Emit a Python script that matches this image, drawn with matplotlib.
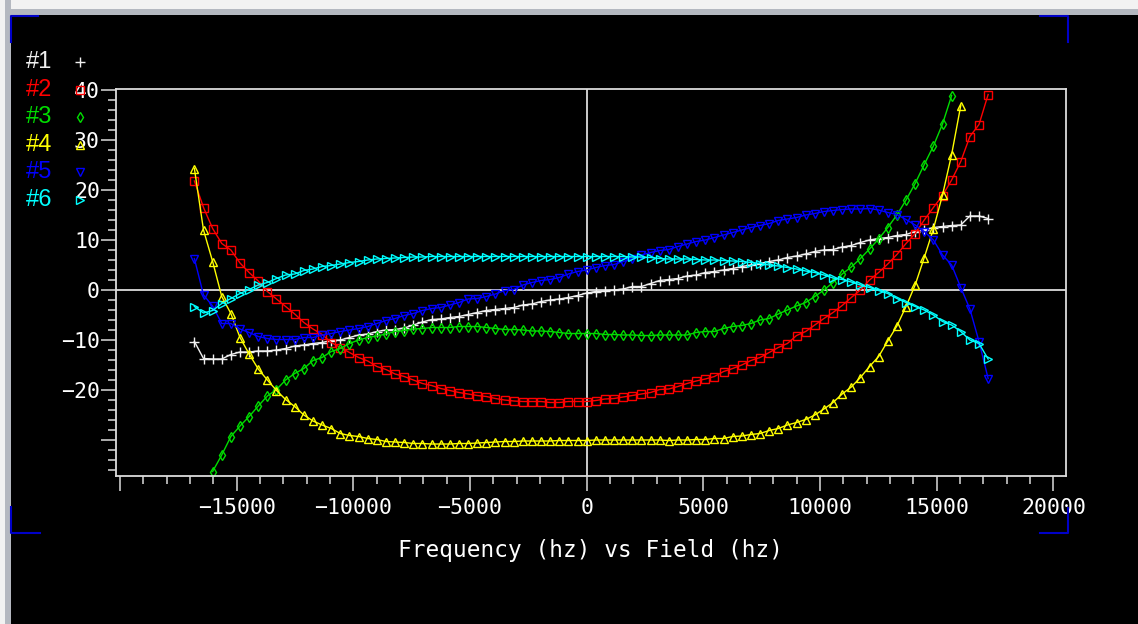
import matplotlib.pyplot as plt
import numpy as np
from matplotlib.lines import Line2D
from matplotlib.patches import Rectangle
from matplotlib.ticker import MultipleLocator

# field sweep: one sample every 391 Hz, steps -43 .. 44
field = np.arange(-43, 45) * 391

# series 1, 2, 5, 6 cover the whole sweep, 3 starts at step -41 and ends at 40,
# 4 ends at step 41
s1 = [-10.3, -13.7, -13.8, -13.8, -12.9, -12.4, -12.4, -12.2, -12.2, -12.0,
      -11.7, -11.2, -11.0, -10.7, -10.5, -10.1, -10.0, -9.5, -9.0, -8.8,
      -8.3, -8.0, -7.9, -7.6, -7.0, -6.4, -5.9, -5.8, -5.5, -5.3,
      -4.9, -4.5, -4.1, -3.9, -3.7, -3.5, -3.0, -2.8, -2.3, -2.0,
      -1.8, -1.5, -1.1, -0.6, -0.3, -0.2, 0.0, 0.2, 0.7, 0.7,
      1.3, 1.9, 2.1, 2.3, 2.8, 3.0, 3.5, 3.7, 4.0, 4.3,
      4.7, 5.0, 5.3, 5.7, 6.0, 6.5, 6.8, 7.2, 7.7, 8.0,
      8.1, 8.6, 8.9, 9.5, 10.0, 10.3, 10.5, 10.9, 11.1, 11.7,
      12.0, 12.5, 12.7, 12.9, 13.0, 14.8, 14.8, 14.3]
s2 = [21.8, 16.5, 12.3, 9.3, 8.0, 5.4, 3.5, 1.8, -0.3, -1.8,
      -3.3, -4.8, -6.5, -7.8, -8.9, -10.5, -11.5, -12.5, -13.5, -14.2,
      -15.3, -15.9, -16.8, -17.3, -18.0, -18.7, -19.1, -19.7, -20.1, -20.5,
      -20.8, -21.1, -21.3, -21.7, -22.0, -22.2, -22.3, -22.3, -22.3, -22.5,
      -22.5, -22.3, -22.3, -22.3, -22.1, -21.8, -21.7, -21.4, -21.1, -20.8,
      -20.5, -19.9, -19.8, -19.3, -18.7, -18.2, -17.8, -17.3, -16.3, -15.7,
      -15.0, -14.1, -13.5, -12.5, -11.5, -10.7, -9.1, -8.3, -7.0, -5.7,
      -4.5, -3.1, -1.5, 0.0, 2.0, 3.5, 5.2, 7.1, 9.3, 11.3,
      14.0, 16.5, 18.9, 22.0, 25.7, 30.7, 33.1, 39.1]
s3 = [-36.3, -33.0, -29.3, -27.2, -25.3, -23.2, -21.2, -19.9,
      -18.0, -16.7, -15.7, -14.1, -13.5, -12.3, -11.7, -10.7, -10.0, -9.5,
      -9.2, -8.8, -8.3, -8.1, -7.8, -7.7, -7.5, -7.5, -7.5, -7.3,
      -7.3, -7.3, -7.5, -7.7, -7.9, -7.9, -8.0, -8.2, -8.2, -8.3,
      -8.5, -8.7, -8.7, -8.7, -8.7, -8.9, -8.9, -9.0, -9.0, -9.1,
      -9.1, -9.0, -9.0, -9.0, -9.0, -8.5, -8.3, -8.3, -7.7, -7.3,
      -7.1, -6.7, -6.0, -5.7, -4.8, -4.0, -3.2, -2.5, -1.3, 0.0,
      1.5, 3.2, 4.6, 6.3, 8.2, 10.2, 12.5, 15.0, 18.0, 21.3,
      25.1, 28.8, 33.2, 38.9]
s4 = [24.3, 12.0, 5.7, -1.3, -4.7, -9.5, -12.8, -15.8, -18.0, -20.1,
      -21.9, -23.3, -25.0, -26.2, -27.0, -27.7, -28.7, -29.1, -29.3, -29.7,
      -29.9, -30.3, -30.4, -30.5, -30.7, -30.7, -30.8, -30.8, -30.8, -30.7,
      -30.7, -30.6, -30.5, -30.4, -30.3, -30.3, -30.2, -30.2, -30.2, -30.2,
      -30.1, -30.1, -30.1, -30.1, -30.0, -30.0, -30.0, -30.0, -30.0, -30.0,
      -30.0, -30.0, -30.1, -30.0, -30.0, -29.9, -29.9, -29.7, -29.7, -29.3,
      -29.2, -28.9, -28.7, -28.1, -27.7, -27.0, -26.5, -25.9, -25.0, -23.8,
      -22.5, -20.8, -19.4, -17.5, -15.3, -13.3, -10.2, -7.2, -3.3, 1.0,
      6.5, 12.2, 19.0, 27.1, 36.9]
s5 = [6.3, -1.0, -3.2, -6.7, -6.7, -7.8, -8.5, -9.3, -9.7, -9.9,
      -9.9, -9.9, -9.5, -9.5, -9.0, -8.7, -8.3, -8.0, -7.7, -7.3,
      -6.7, -6.1, -5.7, -5.1, -4.7, -4.1, -3.7, -3.5, -3.0, -2.5,
      -1.8, -1.7, -1.3, -0.8, -0.1, 0.1, 1.0, 1.5, 1.9, 2.1,
      2.5, 3.2, 3.7, 4.0, 4.5, 4.9, 5.1, 5.7, 6.3, 7.0,
      7.5, 7.9, 8.1, 8.7, 9.2, 9.7, 10.0, 10.5, 11.0, 11.5,
      12.0, 12.5, 12.9, 13.3, 13.9, 14.2, 14.5, 15.0, 15.3, 15.7,
      15.9, 16.1, 16.2, 16.2, 16.3, 16.0, 15.5, 15.1, 14.1, 13.0,
      11.7, 10.0, 7.0, 5.0, 0.5, -3.8, -10.3, -17.7]
s6 = [-3.3, -4.6, -4.1, -2.7, -1.7, -0.7, 0.1, 1.0, 1.5, 2.3,
      3.0, 3.2, 3.9, 4.2, 4.7, 4.9, 5.2, 5.5, 5.7, 6.0,
      6.2, 6.3, 6.4, 6.5, 6.6, 6.6, 6.7, 6.7, 6.7, 6.7,
      6.7, 6.7, 6.7, 6.7, 6.7, 6.7, 6.7, 6.7, 6.7, 6.7,
      6.7, 6.7, 6.7, 6.7, 6.7, 6.7, 6.7, 6.7, 6.6, 6.6,
      6.5, 6.3, 6.2, 6.2, 6.2, 6.1, 6.0, 6.0, 5.9, 5.8,
      5.7, 5.5, 5.3, 5.0, 4.8, 4.5, 4.2, 3.8, 3.5, 3.0,
      2.4, 2.1, 1.6, 1.0, 0.5, -0.1, -0.7, -1.7, -2.5, -3.3,
      -4.0, -5.0, -6.3, -7.0, -8.3, -10.0, -10.7, -13.8]

names = ["#1", "#2", "#3", "#4", "#5", "#6"]
colors = ["#f0f0f0", "#ff0000", "#00dd00", "#ffff00", "#0000ff", "#00ffff"]
markers = ["+", "s", "d", "^", "v", ">"]

xtick_vals = [-20000, -15000, -10000, -5000, 0, 5000, 10000, 15000, 20000]
xtick_labels = ["", "\u221215000", "\u221210000", "\u22125000", "0",
                "5000", "10000", "15000", "20000"]
ytick_vals = [-30, -20, -10, 0, 10, 20, 30, 40]
ytick_labels = ["", "\u221220", "\u221210", "0", "10", "20", "30", "40"]

W, H = 1138, 624
fg = "#dcdcdc"


def fx(px):
    return px / W


def fy(py):
    return 1 - py / H


fig = plt.figure(figsize=(W / 100, H / 100), dpi=100, facecolor="black")
ax = fig.add_axes([fx(116), fy(476), 950 / W, 387 / H], facecolor="black")

ax.axhline(0, color=fg, lw=1.3, zorder=1)
ax.axvline(0, color=fg, lw=1.3, zorder=1)

xs = [field, field, field[2:84], field[:85], field, field]
ys = [s1, s2, s3, s4, s5, s6]
sizes = [7, 5.5, 5.5, 5.5, 5.5, 5.5]
for x, y, c, m, ms in zip(xs, ys, colors, markers, sizes):
    ax.plot(x, y, color=c, lw=1.0, marker=m, ms=ms, mfc="none", mec=c,
            mew=1.0, zorder=2)

ax.set_xlim(-20172, 20541)
ax.set_ylim(-37.2, 40.2)
ax.set_xticks(xtick_vals, xtick_labels)
ax.set_yticks(ytick_vals, ytick_labels)
ax.xaxis.set_minor_locator(MultipleLocator(1000))
ax.yaxis.set_minor_locator(MultipleLocator(2))
ax.tick_params(which="major", length=11, width=1.1, color=fg,
               labelcolor="white", labelsize=15.5)
ax.tick_params(which="minor", length=5.5, width=1.1, color=fg)
ax.tick_params(axis="x", which="major", pad=5)
ax.tick_params(axis="y", which="major", pad=0.5)
for lab in ax.get_xticklabels() + ax.get_yticklabels():
    lab.set_family("DejaVu Sans Mono")
for sp in ax.spines.values():
    sp.set_color(fg)
    sp.set_linewidth(1.3)

ax.set_xlabel("Frequency (hz) vs Field (hz)", family="DejaVu Sans Mono",
              fontsize=16.4, color="white", va="center")
ax.xaxis.set_label_coords((590 - 116) / 950, (476 - 550) / 387)

# legend: coloured name, then the marker
for i, (n, c, m) in enumerate(zip(names, colors, markers)):
    yy = fy(62 + 27.6 * i)
    fig.text(fx(26), yy, n, color=c, family="Liberation Sans", fontsize=17,
             va="center", ha="left")
    fig.add_artist(Line2D([fx(80)], [yy], marker=m,
                          ms=6.5 if m == "+" else 5.5,
                          mfc="none", mec=c, mew=1.0, ls="none",
                          transform=fig.transFigure))

# window frame
fig.add_artist(Rectangle((0, fy(15)), 1, 15 / H, transform=fig.transFigure,
                         color="#b4b8c0", lw=0))
fig.add_artist(Rectangle((0, fy(9)), 1, 9 / H, transform=fig.transFigure,
                         color="#f2f2f2", lw=0))
fig.add_artist(Rectangle((0, 0), 11 / W, 1, transform=fig.transFigure,
                         color="#b4b8c0", lw=0))
fig.add_artist(Rectangle((0, 0), 5 / W, 1, transform=fig.transFigure,
                         color="#f2f2f2", lw=0))

# blue corner marks
blue = "#0000c8"
corners = [
    ([11, 11, 38], [42, 16, 16]),
    ([1040, 1068, 1068], [16, 16, 42]),
    ([11, 11, 40], [507, 533, 533]),
    ([1068, 1068, 1040], [508, 533, 533]),
]
for cx, cy in corners:
    fig.add_artist(Line2D([fx(v) for v in cx], [fy(v) for v in cy],
                          color=blue, lw=1.5, transform=fig.transFigure))

fig.savefig("out.png", dpi=100, facecolor="black")
